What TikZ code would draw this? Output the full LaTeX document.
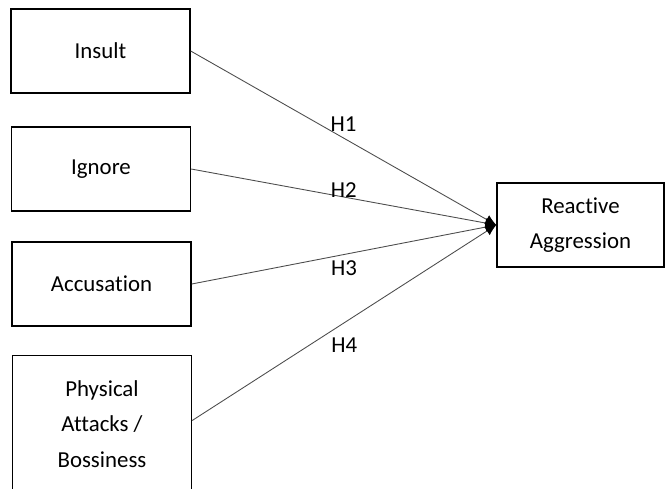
\documentclass[tikz,border=0pt]{standalone}
\usepackage{fontspec}
\setmainfont{Carlito}[Ligatures=NoCommon]
\usetikzlibrary{arrows.meta}

\begin{document}
\begin{tikzpicture}[x=0.2mm,y=-0.2mm]
  \tikzset{ box/.style={draw,line width=0.8pt,align=center,minimum width=35.8mm,minimum height=16.8mm,font=\fontsize{13}{20.2}\selectfont},
    link/.style={draw=black!70,line width=0.5pt,-{Latex[length=2.2mm,width=2mm,black]}},
    hyp/.style={font=\fontsize{13}{16}\selectfont},
  }
  \useasboundingbox (0,0) rectangle (665,488);
  \node[box] (insult) at (100.5,51) {Insult};
  \node[box] (ignore) at (101,169) {Ignore};
  \node[box] (accuse) at (101.5,284) {Accusation};
  \node[box,minimum height=27.4mm] (attack) at (102,424) {Physical\\Attacks /\\Bossiness};
  \node[box,minimum width=33.4mm] (react) at (580.5,225) {Reactive\\Aggression};

  % the paths into reactive aggression
  \draw[link] (insult.east) -- (react.west) node[hyp,midway,above] {H1};
  \draw[link] (ignore.east) -- (react.west) node[hyp,midway,yshift=4pt] {H2};
  \draw[link] (accuse.east) -- (react.west) node[hyp,midway,below] {H3};
  \draw[link] ([yshift=2pt]attack.east) -- (react.west) node[hyp,midway,below=5pt] {H4};
\end{tikzpicture}
\end{document}
